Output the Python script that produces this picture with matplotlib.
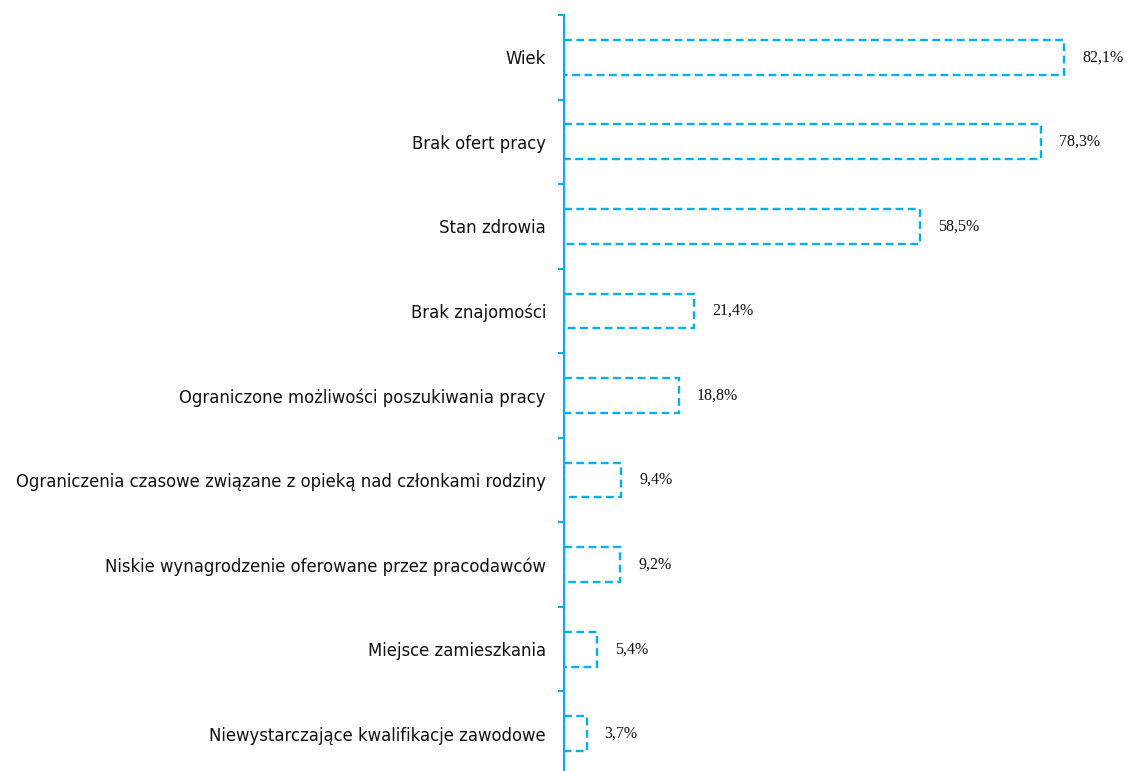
import matplotlib
matplotlib.use("Agg")
import matplotlib.pyplot as plt
import numpy as np

categories = [
    "Wiek",
    "Brak ofert pracy",
    "Stan zdrowia",
    "Brak znajomości",
    "Ograniczone możliwości poszukiwania pracy",
    "Ograniczenia czasowe związane z opieką nad członkami rodziny",
    "Niskie wynagrodzenie oferowane przez pracodawców",
    "Miejsce zamieszkania",
    "Niewystarczające kwalifikacje zawodowe",
]
values = [82.1, 78.3, 58.5, 21.4, 18.8, 9.4, 9.2, 5.4, 3.7]
value_labels = ["82,1%", "78,3%", "58,5%", "21,4%", "18,8%", "9,4%", "9,2%", "5,4%", "3,7%"]

color = "#00B0F0"

fig = plt.figure(figsize=(11.28, 7.71), dpi=100)
ax = fig.add_axes([564/1128, (771-776)/771, 564/1128, 761/771])

y = np.arange(len(categories))
bars = ax.barh(y, values, height=0.41, facecolor="none", edgecolor=color,
               linewidth=1.7, linestyle=(0, (3.3, 1.9)))

ax.set_ylim(len(categories) - 0.5, -0.5)
ax.set_xlim(0, 92.6)

for yi, v, lab in zip(y, values, value_labels):
    ax.annotate(lab, (v, yi), xytext=(13, 0), textcoords="offset points",
                va="center", ha="left", fontsize=11.5, family="Liberation Serif",
                color="#111111")

ax.set_yticks(y)
ax.set_yticklabels(categories, fontsize=11.9, family="DejaVu Sans", color="#111111")
ax.tick_params(axis="y", which="major", length=0, pad=13)
ax.set_yticks(np.arange(-0.5, len(categories) + 0.5, 1), minor=True)
ax.tick_params(axis="y", which="minor", length=4, width=1.5, color=color, direction="out")

ax.set_xticks([])
for s in ["top", "right", "bottom"]:
    ax.spines[s].set_visible(False)
ax.spines["left"].set_color(color)
ax.spines["left"].set_linewidth(1.5)

fig.savefig("out.png", dpi=100)
